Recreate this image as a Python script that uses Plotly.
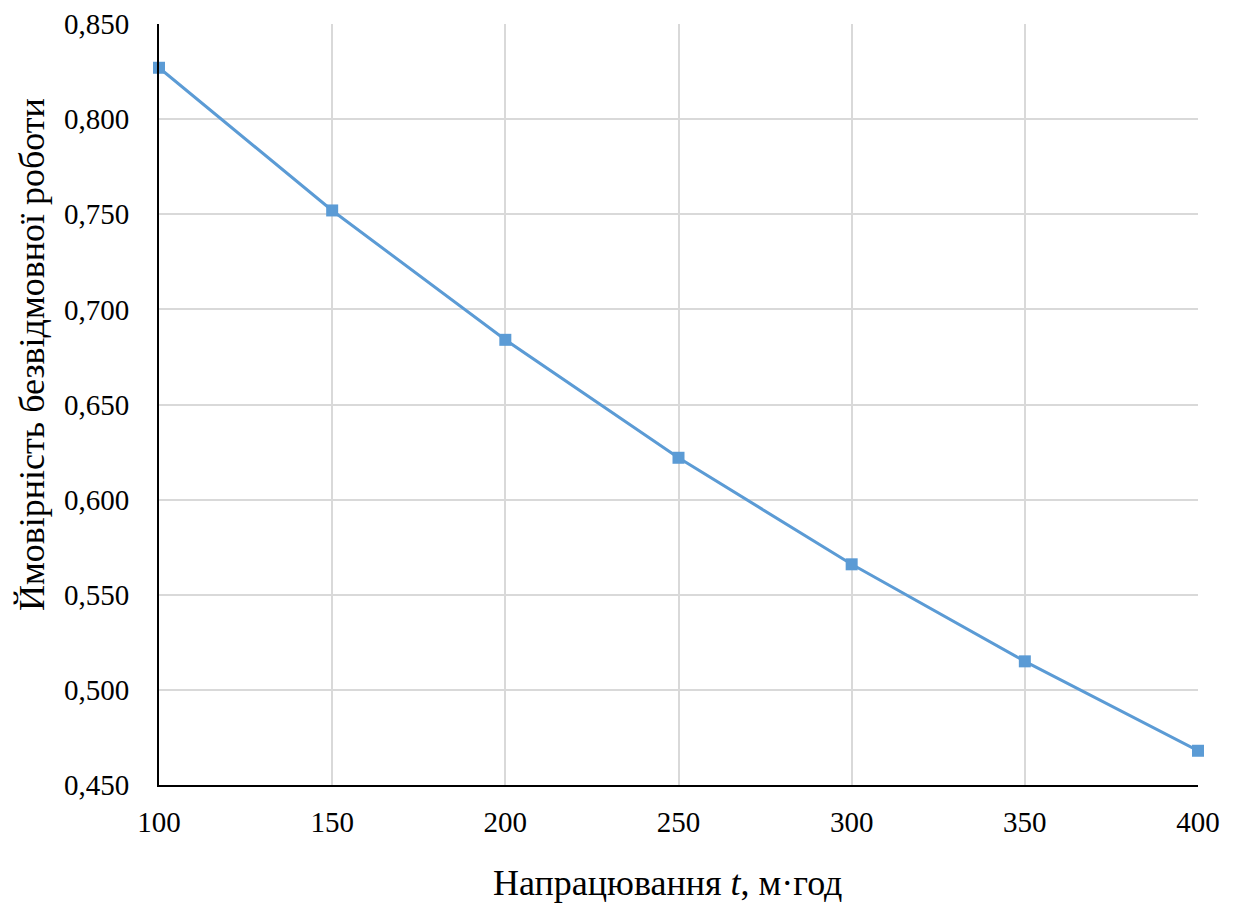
import plotly.graph_objects as go

t_hours = [100, 150, 200, 250, 300, 350, 400]
prob = [0.827, 0.752, 0.684, 0.622, 0.566, 0.515, 0.468]
x_title = "Напрацювання <i>t</i>, м·год"
y_title = "Ймовірність безвідмовної роботи"

fig = go.Figure()
fig.add_trace(go.Scatter(
    x=t_hours, y=prob, mode="lines+markers",
    line=dict(color="#5B9BD5", width=3),
    marker=dict(symbol="square", size=12, color="#5B9BD5"),
    showlegend=False, cliponaxis=False,
))

font_family = "Liberation Serif"
fig.update_layout(
    width=1235, height=907,
    margin=dict(l=159, r=37, t=24, b=122),
    paper_bgcolor="white", plot_bgcolor="white",
    separators=", ",
    font=dict(family=font_family, size=29, color="black"),
)
fig.update_xaxes(
    range=[100, 400], tickvals=[100, 150, 200, 250, 300, 350, 400],
    showgrid=True, gridcolor="#D9D9D9", gridwidth=1.5,
    showline=True, linecolor="black", linewidth=2,
    zeroline=False, ticks="", ticklabelstandoff=10, automargin=False,
    tickfont=dict(family=font_family, size=29),
)
fig.update_yaxes(
    range=[0.45, 0.85], tickvals=[0.45, 0.5, 0.55, 0.6, 0.65, 0.7, 0.75, 0.8, 0.85],
    tickformat=".3f",
    showgrid=True, gridcolor="#D9D9D9", gridwidth=1.5,
    showline=True, linecolor="black", linewidth=2,
    zeroline=False, ticks="", ticklabelstandoff=22, automargin=False,
    tickfont=dict(family=font_family, size=29),
)
fig.add_annotation(
    text=x_title, xref="paper", yref="paper", x=0.489, y=0,
    xanchor="center", yanchor="middle", yshift=-98, showarrow=False,
    font=dict(family=font_family, size=36, color="black"),
)
fig.add_annotation(
    text=y_title, xref="paper", yref="paper", x=0, y=0.565,
    xanchor="center", yanchor="middle", xshift=-127, textangle=-90, showarrow=False,
    font=dict(family=font_family, size=36, color="black"),
)
fig.write_html("out.html")
